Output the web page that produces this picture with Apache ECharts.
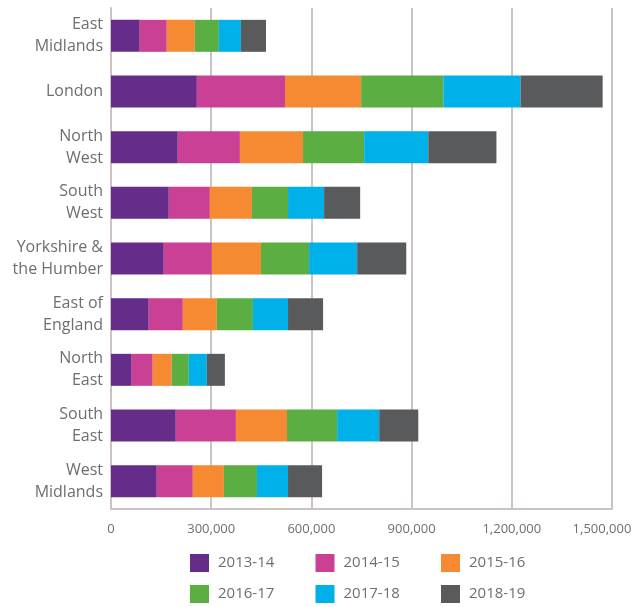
<!DOCTYPE html>
<html>
<head>
<meta charset="utf-8">
<script src="https://cdn.jsdelivr.net/npm/echarts@6/dist/echarts.min.js"></script>
<style>
html,body{margin:0;padding:0;background:#fff;}
#chart{width:635px;height:607px;}
</style>
</head>
<body>
<div id="chart"></div>
<script>
// regions, top to bottom
var regions = ['East\nMidlands', 'London', 'North\nWest', 'South\nWest', 'Yorkshire &\nthe Humber',
	'East of\nEngland', 'North\nEast', 'South\nEast', 'West\nMidlands'];
var years = ['2013-14', '2014-15', '2015-16', '2016-17', '2017-18', '2018-19'];
var colors = ['#652d89', '#c94095', '#f58a33', '#5aae42', '#00b1e9', '#595a5c'];

var y1314 = [86000, 257000, 200000, 173000, 158000, 113000, 62000, 194000, 137000];
var y1415 = [81000, 264000, 186000, 123000, 144000, 102000, 63000, 180000, 108000];
var y1516 = [84000, 228000, 189000, 126000, 147000, 102000, 57000, 153000, 93000];
var y1617 = [72000, 246000, 183000, 108000, 144000, 108000, 51000, 150000, 99000];
var y1718 = [66000, 231000, 192000, 108000, 144000, 105000, 54000, 126000, 93000];
var y1819 = [75000, 246000, 204000, 108000, 147000, 105000, 54000, 117000, 102000];

var values = [y1314, y1415, y1516, y1617, y1718, y1819];
var xMax = 1500000;
var font = '"Open Sans", sans-serif';
var grey = '#6d6e70';

var chart = echarts.init(document.getElementById('chart'));

var series = [];
for (var i = 0; i < years.length; i++) {
	series.push({
		name: years[i],
		type: 'bar',
		stack: 'total',
		barWidth: 32,
		itemStyle: {color: colors[i]},
		data: values[i]
	});
}

// one legend per item, laid out 3 per row
var legends = [];
for (var k = 0; k < years.length; k++) {
	legends.push({
		data: [years[k]],
		left: 190 + (k % 3) * 125.5,
		top: k < 3 ? 554 : 585,
		padding: 0,
		icon: 'rect',
		itemWidth: 19,
		itemHeight: 18,
		textStyle: {
			color: grey,
			fontSize: 15,
			fontFamily: font,
			padding: [0, 0, 0, 4]
		}
	});
}

chart.setOption({
	animation: false,
	color: colors,
	legend: legends,
	grid: {left: 111, right: 23, top: 8, bottom: 98, containLabel: false, outerBoundsMode: 'none'},
	xAxis: {
		type: 'value',
		min: 0,
		max: xMax,
		interval: 300000,
		axisLine: {show: true, lineStyle: {color: '#cbc3c6', width: 2}},
		axisTick: {show: false},
		splitLine: {show: true, lineStyle: {color: '#cbc3c6', width: 2}},
		axisLabel: {
			color: grey,
			fontSize: 13,
			fontFamily: font,
			margin: 14,
			formatter: function (v) {
				var s = v.toLocaleString('en-GB');
				return v === xMax ? '{last|' + s + '}' : s; // last label nudged left to stay in view
			},
			rich: {
				last: {color: grey, fontSize: 13, fontFamily: font, padding: [0, 20, 0, 0]}
			}
		}
	},
	yAxis: {
		type: 'category',
		data: regions,
		inverse: true,
		axisLine: {show: true, lineStyle: {color: '#cbc3c6', width: 2}},
		axisTick: {show: false},
		axisLabel: {
			color: grey,
			fontSize: 16,
			fontFamily: font,
			lineHeight: 22,
			margin: 8,
			align: 'right'
		}
	},
	series: series
});
</script>
</body>
</html>
